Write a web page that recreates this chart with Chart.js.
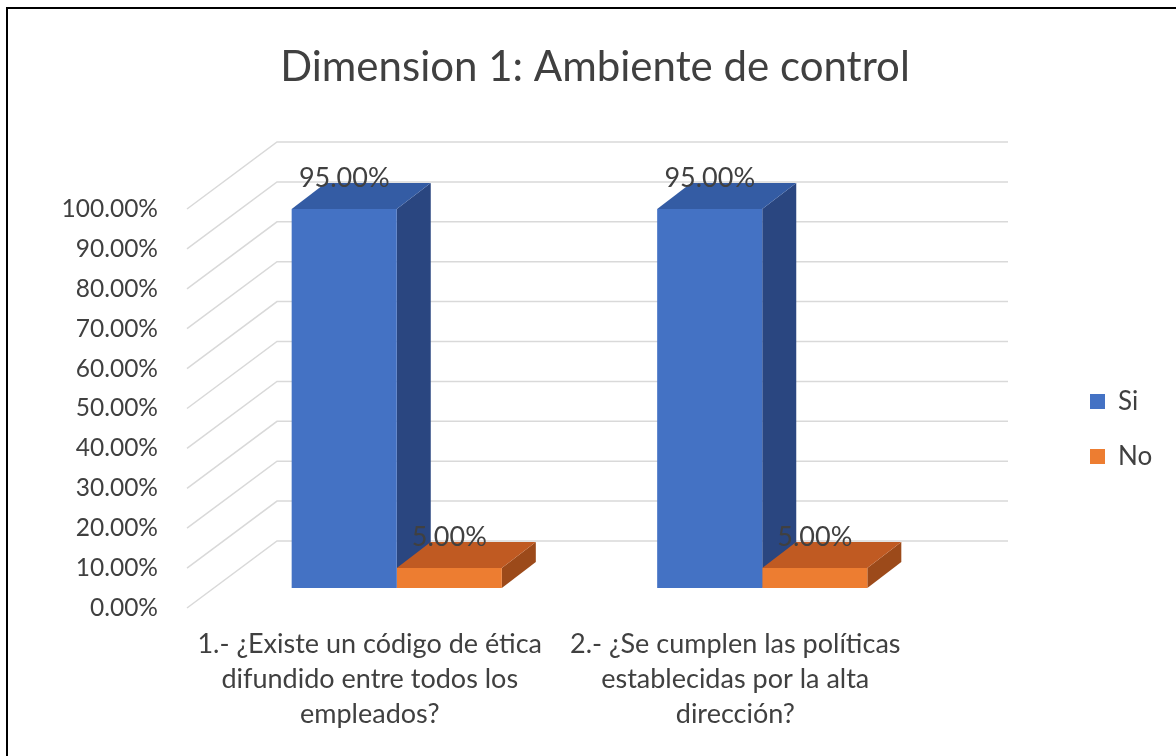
<!DOCTYPE html>
<html>
<head>
<meta charset="utf-8">
<script src="https://cdn.jsdelivr.net/npm/chart.js@4"></script>
<style>
  html, body { margin: 0; padding: 0; background: #fff; }
  #wrap { width: 1176px; height: 756px; }
</style>
</head>
<body>
<div id="wrap"><canvas id="chart" width="1176" height="756"></canvas></div>
<script>
const title = "Dimension 1: Ambiente de control";
const categories = [
  ["1.- ¿Existe un código de ética", "difundido entre todos los", "empleados?"],
  ["2.- ¿Se cumplen las políticas", "establecidas por la alta", "dirección?"]
];
const seriesNames = ["Si", "No"];
const siValues = [0.95, 0.95];
const noValues = [0.05, 0.05];

const FONT = "Lato, 'Open Sans', sans-serif";
const TEXT = "#404040";
const faces = [
  { front: "#4472C4", top: "#345CA4", side: "#2A4680" },
  { front: "#ED7D31", top: "#C05A22", side: "#9C4A1A" }
];
const WALL = { dx: 90, dy: -67 };   // back wall offset
const SHIFT = { dx: 27, dy: -20 };  // bars sit a bit behind the front plane
const DEPTH = { dx: 34, dy: -26 };  // bar depth
const LEGEND_W = 258;
const LEGEND_MOVE = { dx: 143, dy: 51 };

const pct = v => (v * 100).toFixed(2) + "%";

const threeD = {
  id: "threeD",
  afterInit(chart) {
    // fixed legend width so the plot area lands where the reference has it
    const lg = chart.legend;
    const fit = lg.fit;
    lg.fit = function () { fit.call(this); this.width = LEGEND_W; };
  },
  afterLayout(chart) {
    const lg = chart.legend;
    lg.left += LEGEND_MOVE.dx; lg.right += LEGEND_MOVE.dx;
    lg.top += LEGEND_MOVE.dy; lg.bottom += LEGEND_MOVE.dy;
  },
  beforeDraw(chart) {
    const ctx = chart.ctx;
    ctx.save();
    ctx.fillStyle = "#fff";
    ctx.fillRect(0, 0, chart.width, chart.height);
    ctx.strokeStyle = "#000";
    ctx.lineWidth = 2;
    ctx.strokeRect(7, 8, chart.width + 10, chart.height + 10);
    ctx.restore();
  },
  beforeDatasetsDraw(chart) {
    const ctx = chart.ctx;
    const { left, right } = chart.chartArea;
    const y = chart.scales.y;
    ctx.save();
    ctx.strokeStyle = "#D9D9D9";
    ctx.lineWidth = 1.5;
    y.ticks.forEach(t => {
      const py = y.getPixelForValue(t.value);
      ctx.beginPath();
      ctx.moveTo(left, py);
      ctx.lineTo(left + WALL.dx, py + WALL.dy);
      ctx.lineTo(right + WALL.dx, py + WALL.dy);
      ctx.stroke();
    });
    ctx.restore();

    ctx.save();
    ctx.translate(SHIFT.dx, SHIFT.dy);
    chart.data.datasets.forEach((ds, i) => {
      const c = faces[i];
      chart.getDatasetMeta(i).data.forEach(bar => {
        const l = bar.x - bar.width / 2, r = bar.x + bar.width / 2;
        ctx.fillStyle = c.side;
        ctx.beginPath();
        ctx.moveTo(r, bar.y);
        ctx.lineTo(r + DEPTH.dx, bar.y + DEPTH.dy);
        ctx.lineTo(r + DEPTH.dx, bar.base + DEPTH.dy);
        ctx.lineTo(r, bar.base);
        ctx.closePath();
        ctx.fill();
        ctx.fillStyle = c.top;
        ctx.beginPath();
        ctx.moveTo(l, bar.y);
        ctx.lineTo(l + DEPTH.dx, bar.y + DEPTH.dy);
        ctx.lineTo(r + DEPTH.dx, bar.y + DEPTH.dy);
        ctx.lineTo(r, bar.y);
        ctx.closePath();
        ctx.fill();
      });
    });
  },
  afterDatasetsDraw(chart) {
    const ctx = chart.ctx;
    ctx.fillStyle = TEXT;
    ctx.font = "27px " + FONT;
    ctx.textAlign = "center";
    ctx.textBaseline = "middle";
    chart.data.datasets.forEach((ds, i) => {
      chart.getDatasetMeta(i).data.forEach((bar, j) => {
        ctx.fillText(pct(ds.data[j]), bar.x, bar.y - 31);
      });
    });
    ctx.restore();
  }
};

new Chart(document.getElementById("chart"), {
  type: "bar",
  data: {
    labels: categories,
    datasets: [
      { label: seriesNames[0], data: siValues, backgroundColor: faces[0].front },
      { label: seriesNames[1], data: noValues, backgroundColor: faces[1].front }
    ]
  },
  options: {
    responsive: false,
    animation: false,
    layout: { padding: { left: 14, right: 0, top: 0, bottom: 0 } },
    datasets: { bar: { categoryPercentage: 0.575, barPercentage: 1, clip: false } },
    scales: {
      x: {
        grid: { display: false, drawTicks: false },
        border: { display: false },
        ticks: {
          color: TEXT,
          font: { family: FONT, size: 27, lineHeight: 1.3 },
          maxRotation: 0,
          autoSkip: false,
          padding: 19
        },
        afterFit(s) { s.height = 148; }
      },
      y: {
        min: 0,
        max: 1,
        grid: { display: false, drawTicks: false },
        border: { display: false },
        ticks: {
          stepSize: 0.1,
          color: TEXT,
          font: { family: FONT, size: 24.5 },
          padding: 29,
          callback: v => pct(v)
        },
        afterFit(s) { s.width = 173; }
      }
    },
    plugins: {
      tooltip: { enabled: false },
      title: {
        display: true,
        text: title,
        color: TEXT,
        font: { family: FONT, size: 42, weight: "normal", lineHeight: 1.2 },
        padding: { top: 42, bottom: 116.6 }
      },
      legend: {
        position: "right",
        labels: {
          color: TEXT,
          font: { family: FONT, size: 26 },
          boxWidth: 15,
          boxHeight: 15,
          padding: 29
        }
      }
    }
  },
  plugins: [threeD]
});
</script>
</body>
</html>
